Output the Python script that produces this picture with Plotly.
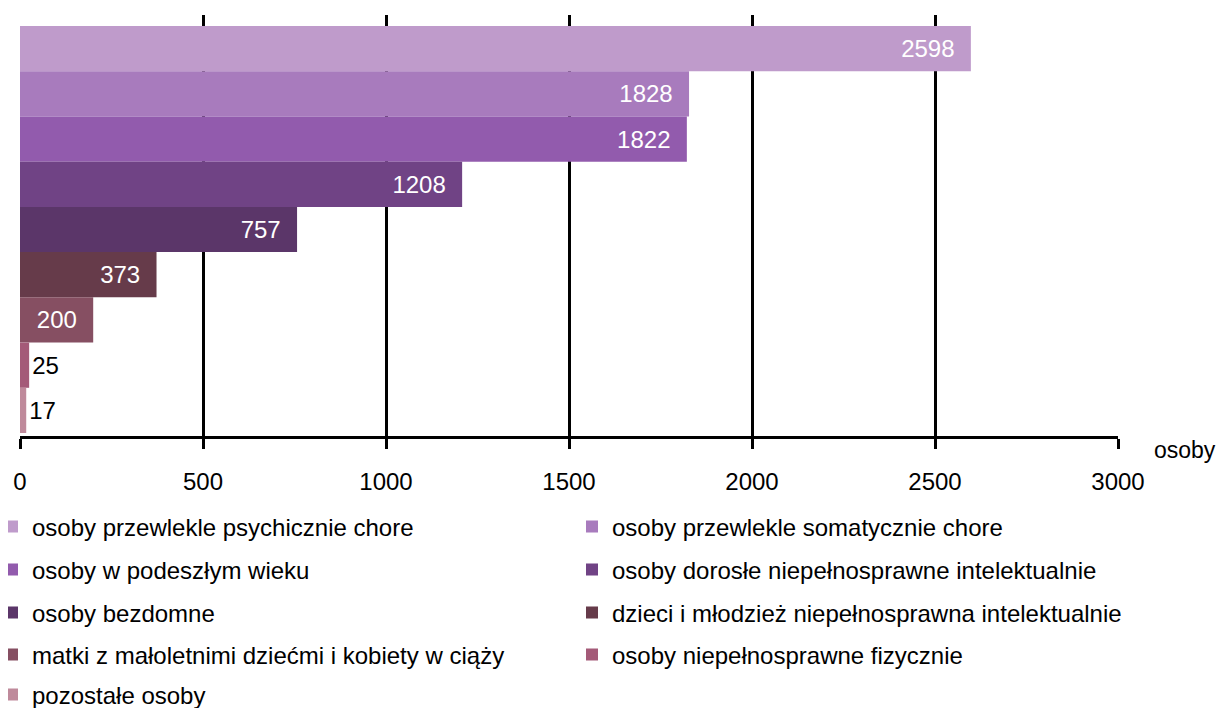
import plotly.graph_objects as go

categories = [
    "osoby przewlekle psychicznie chore",
    "osoby przewlekle somatycznie chore",
    "osoby w podeszłym wieku",
    "osoby dorosłe niepełnosprawne intelektualnie",
    "osoby bezdomne",
    "dzieci i młodzież niepełnosprawna intelektualnie",
    "matki z małoletnimi dziećmi i kobiety w ciąży",
    "osoby niepełnosprawne fizycznie",
    "pozostałe osoby",
]
values = [2598, 1828, 1822, 1208, 757, 373, 200, 25, 17]
colors = ["#BF9BCB", "#A87BBD", "#925BAD", "#704385", "#5B3669",
          "#663B4A", "#864F62", "#A45A78", "#BF8A9B"]
x_ticks = [0, 500, 1000, 1500, 2000, 2500, 3000]

W, H = 1225, 708
OFF = 8  # page body margin offset
L, T = 20 - OFF, 15 - OFF
PLOT_RIGHT, PLOT_BOTTOM = 1118 - OFF, 436 - OFF
R, B = W - PLOT_RIGHT, H - PLOT_BOTTOM
pw, ph = W - L - R, H - T - B

FONT = "Arial, Liberation Sans, sans-serif"

fig = go.Figure()
n = len(categories)
row_px = [v - OFF for v in [527, 570, 613, 655, 695]]
col_px = [v - OFF for v in [-8, 572]]

for i, (cat, val, col) in enumerate(zip(categories, values, colors)):
    pos = n - 1 - i
    inside = val > 100
    lg = "legend" if i == 0 else f"legend{i + 1}"
    fig.add_trace(go.Bar(
        x=[val], y=[pos], orientation="h", width=1.0,
        name=cat, marker=dict(color=col, line=dict(width=0)),
        text=[f"{val}&nbsp;&nbsp;" if inside else f"{val}"],
        textposition="inside" if inside else "outside",
        insidetextanchor="end",
        textfont=dict(family=FONT, size=24, color="white" if inside else "black"),
        cliponaxis=False,
        legend=lg,
        showlegend=True,
    ))

legends = {}
for i in range(n):
    r, c = divmod(i, 2)
    key = "legend" if i == 0 else f"legend{i + 1}"
    legends[key] = dict(
        x=(col_px[c] - L) / pw,
        y=(PLOT_BOTTOM - row_px[r]) / ph,
        xanchor="left", yanchor="middle",
        orientation="h",
        font=dict(family=FONT, size=24, color="black"),
        bgcolor="rgba(0,0,0,0)",
        itemclick=False, itemdoubleclick=False,
    )

fig.update_layout(
    width=W, height=H,
    margin=dict(l=L, r=R, t=T, b=B, autoexpand=False),
    paper_bgcolor="white", plot_bgcolor="white",
    barmode="overlay",
    font=dict(family=FONT, size=24, color="black"),
    **legends,
)

fig.update_xaxes(
    range=[0, 3000], tickvals=x_ticks, ticktext=[str(v) for v in x_ticks],
    showgrid=True, gridcolor="black", gridwidth=2.5,
    zeroline=False,
    showline=True, linecolor="black", linewidth=3,
    ticks="outside", ticklen=10, tickwidth=2.5, tickcolor="black",
    ticklabelstandoff=12,
    tickfont=dict(family=FONT, size=24, color="black"),
)
fig.update_yaxes(
    range=[-0.566, n - 0.5 + 11 / 45.2],
    showticklabels=False, showgrid=False, zeroline=False, showline=False,
    ticks="",
)

fig.add_annotation(
    text="osoby", xref="paper", yref="paper",
    x=(1152 - OFF - L) / pw, y=(PLOT_BOTTOM - (450 - OFF)) / ph,
    xanchor="left", yanchor="middle", showarrow=False,
    font=dict(family=FONT, size=23, color="black"),
)

fig.write_html("out.html")
